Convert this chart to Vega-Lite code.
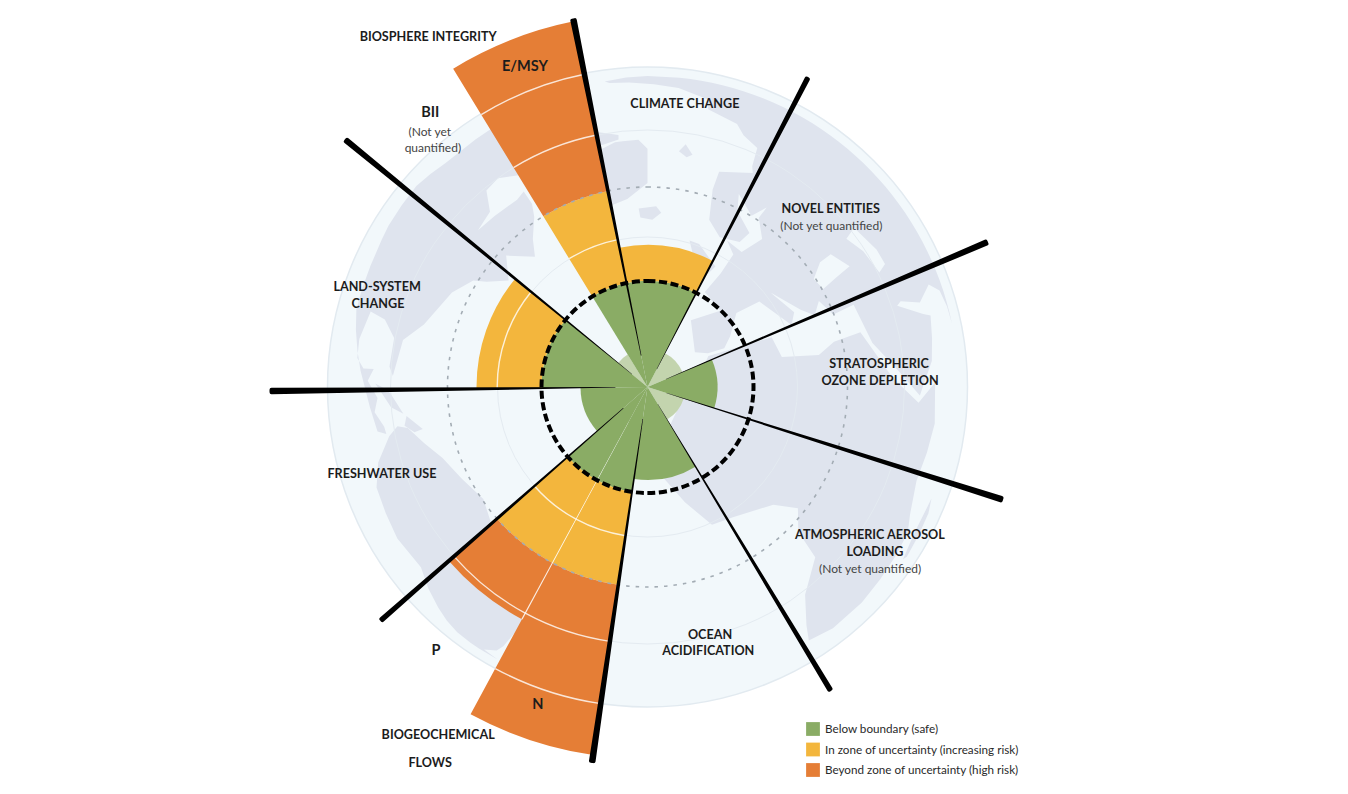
{"$schema":"https://vega.github.io/schema/vega-lite/v6.json","width":1295,"height":774,"autosize":"none","padding":{"left":0,"top":0,"right":53,"bottom":20},"background":"white","config":{"view":{"stroke":null}},
"datasets":{
"disc":[{"part":"globe","r":320}],
"rings":[{"ring":"inner","r":150},{"ring":"outer","r":257}],
"zoneLimit":[{"ring":"zone limit","r":200}],
"boundary":[{"ring":"planetary boundary","r":106}],
"zones":[
{"sector":"Climate change","zone":"Below boundary (safe)","t0":348.6,"t1":387.4,"r0":0,"r1":106},
{"sector":"Climate change","zone":"In zone of uncertainty (increasing risk)","t0":348.6,"t1":387.4,"r0":106,"r1":142},
{"sector":"Stratospheric ozone depletion","zone":"Below boundary (safe)","t0":66.9,"t1":107.6,"r0":0,"r1":70},
{"sector":"Ocean acidification","zone":"Below boundary (safe)","t0":148.9,"t1":188.4,"r0":0,"r1":93},
{"sector":"N","zone":"Below boundary (safe)","t0":188.4,"t1":208.4,"r0":0,"r1":106},
{"sector":"N","zone":"In zone of uncertainty (increasing risk)","t0":188.4,"t1":208.4,"r0":106,"r1":200},
{"sector":"N","zone":"Beyond zone of uncertainty (high risk)","t0":188.4,"t1":208.4,"r0":200,"r1":372},
{"sector":"P","zone":"Below boundary (safe)","t0":208.4,"t1":228.8,"r0":0,"r1":106},
{"sector":"P","zone":"In zone of uncertainty (increasing risk)","t0":208.4,"t1":228.8,"r0":106,"r1":200},
{"sector":"P","zone":"Beyond zone of uncertainty (high risk)","t0":208.4,"t1":228.8,"r0":200,"r1":264},
{"sector":"Freshwater use","zone":"Below boundary (safe)","t0":228.8,"t1":269.4,"r0":0,"r1":67},
{"sector":"Land-system change","zone":"Below boundary (safe)","t0":269.4,"t1":309.3,"r0":0,"r1":106},
{"sector":"Land-system change","zone":"In zone of uncertainty (increasing risk)","t0":269.4,"t1":309.3,"r0":106,"r1":171},
{"sector":"E/MSY","zone":"Below boundary (safe)","t0":328.6,"t1":348.6,"r0":0,"r1":106},
{"sector":"E/MSY","zone":"In zone of uncertainty (increasing risk)","t0":328.6,"t1":348.6,"r0":106,"r1":200},
{"sector":"E/MSY","zone":"Beyond zone of uncertainty (high risk)","t0":328.6,"t1":348.6,"r0":200,"r1":373}
],
"unknown":[
{"sector":"Novel entities","t0":27.4,"t1":66.9,"r":38},
{"sector":"Atmospheric aerosol loading","t0":107.6,"t1":148.9,"r":38},
{"sector":"BII","t0":309.3,"t1":328.6,"r":38}
],
"dividers":[
{"t0":269.4,"t1":309.3,"r0":149.6,"r1":151},
{"t0":328.6,"t1":348.6,"r0":149.6,"r1":151},
{"t0":328.6,"t1":348.6,"r0":256.4,"r1":257.8},
{"t0":328.6,"t1":348.6,"r0":318.4,"r1":319.8},
{"t0":188.4,"t1":208.4,"r0":149.6,"r1":151},
{"t0":188.4,"t1":208.4,"r0":256.4,"r1":257.8},
{"t0":188.4,"t1":208.4,"r0":319.4,"r1":320.8},
{"t0":208.4,"t1":228.8,"r0":149.6,"r1":151},
{"t0":208.4,"t1":228.8,"r0":256.4,"r1":257.8},
{"t0":208.25,"t1":208.55,"r0":40,"r1":264}
],
"spokes":[
{"t0":348.1,"t1":349.1,"r0":32,"r1":376},
{"t0":26.95,"t1":27.85,"r0":20,"r1":349},
{"t0":66.4,"t1":67.4,"r0":20,"r1":370},
{"t0":107.1,"t1":108.1,"r0":20,"r1":373},
{"t0":148.45,"t1":149.35,"r0":20,"r1":355},
{"t0":187.9,"t1":188.9,"r0":32,"r1":380},
{"t0":228.35,"t1":229.25,"r0":32,"r1":355},
{"t0":268.9,"t1":269.9,"r0":32,"r1":378},
{"t0":308.85,"t1":309.75,"r0":20,"r1":391}
],
"heads":[
{"label":"BIOSPHERE INTEGRITY","a":328,"r":414},
{"label":"CLIMATE CHANGE","a":7.5,"r":286.5},
{"label":"NOVEL ENTITIES","a":45.7,"r":256},
{"label":"STRATOSPHERIC","a":84.1,"r":232.7},
{"label":"OZONE DEPLETION","a":88.3,"r":232.6},
{"label":"ATMOSPHERIC AEROSOL","a":123.5,"r":266.7},
{"label":"LOADING","a":125.8,"r":280.5},
{"label":"OCEAN","a":165.8,"r":254.8},
{"label":"ACIDIFICATION","a":167,"r":269.9},
{"label":"BIOGEOCHEMICAL","a":211.1,"r":405.3},
{"label":"FLOWS","a":210.1,"r":433.5},
{"label":"FRESHWATER USE","a":252.1,"r":279},
{"label":"LAND-SYSTEM","a":290.5,"r":288.7},
{"label":"CHANGE","a":287.3,"r":282.3}
],
"subs":[
{"label":"E/MSY","a":339.1,"r":343.6},
{"label":"BII","a":321.7,"r":350.6},
{"label":"P","a":218.8,"r":337.5},
{"label":"N","a":199.1,"r":335.4}
],
"notes":[
{"label":"(Not yet","a":319.6,"r":336},
{"label":"quantified)","a":318.2,"r":322},
{"label":"(Not yet quantified)","a":48.6,"r":245},
{"label":"(Not yet quantified)","a":129.1,"r":286.8}
]
},
"layer":[
{"data":{"name":"disc"},"mark":{"type":"arc","fill":"#f2f8fb","stroke":"#e2eaf0","strokeWidth":1.5},
 "encoding":{"theta":{"datum":0,"type":"quantitative","stack":null,"scale":{"domain":[0,360],"range":[0,6.283185307179586]}},"theta2":{"datum":362},"radius":{"field":"r","type":"quantitative","stack":null,"scale":{"domain":[0,440],"range":[0,440]}}}},
{"data":{"values":{"type":"FeatureCollection","features":[
{"type":"Feature","properties":{"name":"North America"},"geometry":{"type":"Polygon","coordinates":[[[-168,66],[-156,71],[-140,70],[-125,70],[-110,68],[-95,68],[-94,72],[-85,69],[-82,67],[-87,64],[-94,60],[-92,57],[-82,55],[-80,51],[-79,55],[-77,60],[-78,62],[-70,61],[-65,59],[-60,55],[-56,52],[-65,50],[-60,46],[-66,44],[-70,43],[-74,39],[-77,31],[-81,26],[-80,19],[-82,20],[-84,25],[-90,26],[-97,24],[-97,18],[-95,15],[-91,15],[-87,17],[-88,14],[-83,13],[-83,10],[-79,9],[-78,8],[-81,7],[-85,10],[-92,14],[-96,16],[-105,20],[-110,27],[-114,31],[-117,33],[-124,40],[-124,48],[-130,54],[-140,60],[-150,60],[-165,55],[-160,60],[-165,63],[-168,66]]]}},
{"type":"Feature","properties":{"name":"Arctic Canada"},"geometry":{"type":"Polygon","coordinates":[[[-125,72],[-115,76],[-95,80],[-70,83],[-62,82],[-75,76],[-80,73],[-70,71],[-62,66],[-66,62],[-73,64],[-80,68],[-90,73],[-105,72],[-118,71],[-125,72]]]}},
{"type":"Feature","properties":{"name":"Greenland"},"geometry":{"type":"Polygon","coordinates":[[[-55,82],[-35,83.5],[-20,81],[-20,72],[-30,68],[-40,65],[-43,60],[-50,62],[-54,68],[-58,75],[-68,76],[-62,81],[-55,82]]]}},
{"type":"Feature","properties":{"name":"Iceland"},"geometry":{"type":"Polygon","coordinates":[[[-24,66],[-16,66.5],[-14,65],[-18,63.5],[-23,64],[-24,66]]]}},
{"type":"Feature","properties":{"name":"South America"},"geometry":{"type":"Polygon","coordinates":[[[-75,11],[-72,12],[-62,10],[-52,5],[-50,0],[-44,-2],[-35,-6],[-39,-15],[-41,-22],[-48,-26],[-54,-34],[-58,-38],[-65,-42],[-68,-52],[-67,-55],[-74,-52],[-73,-40],[-71,-30],[-70,-18],[-76,-14],[-81,-5],[-80,1],[-77,8],[-75,11]]]}},
{"type":"Feature","properties":{"name":"Africa"},"geometry":{"type":"Polygon","coordinates":[[[-6,36],[10,37],[11,33],[20,31],[25,32],[33,31],[35,25],[37,20],[43,12],[51,12],[48,5],[40,-3],[39,-10],[40,-15],[35,-24],[32,-29],[26,-34],[19,-34.5],[15,-27],[12,-17],[13,-8],[9,-1],[9,4],[4,6],[-4,5],[-8,4],[-13,9],[-17,14],[-17,21],[-13,28],[-9,32],[-6,36]]]}},
{"type":"Feature","properties":{"name":"Eurasia"},"geometry":{"type":"Polygon","coordinates":[[[-9,43],[-1,44],[-4,48],[2,51],[8,54],[8,57],[11,54],[20,55],[24,59],[30,60],[22,60],[24,65],[18,62],[17,57],[12,56],[6,58],[5,62],[14,68],[25,71],[40,67],[44,68],[60,69],[68,72],[80,73],[100,77],[115,74],[140,73],[170,70],[179,68],[179,65],[160,60],[135,55],[130,42],[122,30],[108,20],[105,10],[98,15],[92,22],[80,15],[77,8],[72,20],[66,25],[57,26],[50,30],[48,30],[56,24],[59,22],[52,16],[44,13],[39,21],[35,28],[35,36],[28,36.5],[26,40],[23,38],[20,40],[14,45],[18,40],[16,38],[10,44],[3,43],[0,39],[-2,37],[-6,36.5],[-9,37],[-9,43]]]}},
{"type":"Feature","properties":{"name":"Great Britain"},"geometry":{"type":"Polygon","coordinates":[[[-5,58.5],[-2,57.5],[1,52.5],[-5,50],[-5,54],[-5,58.5]]]}},
{"type":"Feature","properties":{"name":"Ireland"},"geometry":{"type":"Polygon","coordinates":[[[-9,54],[-6,55],[-6,52],[-10,52],[-9,54]]]}},
{"type":"Feature","properties":{"name":"Madagascar"},"geometry":{"type":"Polygon","coordinates":[[[49,-12],[50,-16],[47,-25],[44,-24],[44,-17],[49,-12]]]}},
{"type":"Feature","properties":{"name":"Svalbard"},"geometry":{"type":"Polygon","coordinates":[[[12,79],[25,80],[20,77],[14,77],[12,79]]]}},
{"type":"Feature","properties":{"name":"Cuba"},"geometry":{"type":"Polygon","coordinates":[[[-85,15],[-80,16],[-74,14],[-78,13.5],[-82,14.5],[-85,15]]]}},
{"type":"Feature","properties":{"name":"Hispaniola"},"geometry":{"type":"Polygon","coordinates":[[[-73,14],[-68,13.5],[-70,12],[-73,12],[-73,14]]]}}
]},"format":{"type":"json","property":"features"}},
 "projection":{"type":"orthographic","rotate":[20,-31,0],"scale":311,"translate":[647.5,387]},
 "mark":{"type":"geoshape","fill":"#dfe4ee","stroke":null},"encoding":{}},
{"data":{"values":{"type":"FeatureCollection","features":[
{"type":"Feature","properties":{"name":"Black Sea"},"geometry":{"type":"Polygon","coordinates":[[[28,44],[33,46],[38,46],[41,42],[35,42],[29,41.5],[28,44]]]}},
{"type":"Feature","properties":{"name":"Caspian Sea"},"geometry":{"type":"Polygon","coordinates":[[[47,46],[53,46],[54,40],[53,37],[49,37],[49,42],[47,46]]]}}
]},"format":{"type":"json","property":"features"}},
 "projection":{"type":"orthographic","rotate":[20,-31,0],"scale":311,"translate":[647.5,387]},
 "mark":{"type":"geoshape","fill":"#f2f8fb","stroke":null},"encoding":{}},
{"data":{"name":"rings"},"mark":{"type":"arc","fill":"transparent","stroke":"#e4ebf1","strokeWidth":1},
 "encoding":{"theta":{"datum":0,"type":"quantitative","stack":null,"scale":{"domain":[0,360],"range":[0,6.283185307179586]}},"theta2":{"datum":362},"radius":{"field":"r","type":"quantitative","stack":null,"scale":{"domain":[0,440],"range":[0,440]}}}},
{"data":{"name":"unknown"},"mark":{"type":"arc","fill":"#c3d4ae"},
 "encoding":{"theta":{"field":"t0","type":"quantitative","stack":null,"scale":{"domain":[0,360],"range":[0,6.283185307179586]}},"theta2":{"field":"t1"},"radius":{"field":"r","type":"quantitative","stack":null,"scale":{"domain":[0,440],"range":[0,440]}}}},
{"data":{"name":"zones"},"mark":{"type":"arc"},
 "encoding":{"theta":{"field":"t0","type":"quantitative","stack":null,"scale":{"domain":[0,360],"range":[0,6.283185307179586]}},"theta2":{"field":"t1"},"radius":{"field":"r1","type":"quantitative","stack":null,"scale":{"domain":[0,440],"range":[0,440]}},"radius2":{"field":"r0"},
 "color":{"field":"zone","type":"nominal","sort":null,"scale":{"domain":["Below boundary (safe)","In zone of uncertainty (increasing risk)","Beyond zone of uncertainty (high risk)"],"range":["#8aac65","#f3b63d","#e57e36"]},
 "legend":{"title":null,"orient":"none","legendX":806,"legendY":722,"symbolType":"square","symbolSize":190,"symbolStrokeWidth":0,"labelFont":"Lato","labelFontSize":11.7,"labelColor":"#2a2a2a","labelLimit":260,"rowPadding":6.5,"labelOffset":5}}}},
{"data":{"name":"dividers"},"mark":{"type":"arc","fill":"#ffffff","opacity":0.8},
 "encoding":{"theta":{"field":"t0","type":"quantitative","stack":null,"scale":{"domain":[0,360],"range":[0,6.283185307179586]}},"theta2":{"field":"t1"},"radius":{"field":"r1","type":"quantitative","stack":null,"scale":{"domain":[0,440],"range":[0,440]}},"radius2":{"field":"r0"}}},
{"data":{"name":"zoneLimit"},"mark":{"type":"arc","fill":"transparent","stroke":"#a3acb4","strokeWidth":1.6,"strokeDash":[3.5,6]},
 "encoding":{"theta":{"datum":0,"type":"quantitative","stack":null,"scale":{"domain":[0,360],"range":[0,6.283185307179586]}},"theta2":{"datum":362},"radius":{"field":"r","type":"quantitative","stack":null,"scale":{"domain":[0,440],"range":[0,440]}}}},
{"data":{"name":"spokes"},"mark":{"type":"arc","fill":"#000000","cornerRadius":2},
 "encoding":{"theta":{"field":"t0","type":"quantitative","stack":null,"scale":{"domain":[0,360],"range":[0,6.283185307179586]}},"theta2":{"field":"t1"},"radius":{"field":"r1","type":"quantitative","stack":null,"scale":{"domain":[0,440],"range":[0,440]}},"radius2":{"field":"r0"}}},
{"data":{"name":"boundary"},"mark":{"type":"arc","fill":"transparent","stroke":"#000000","strokeWidth":4,"strokeDash":[8,3.6]},
 "encoding":{"theta":{"datum":0,"type":"quantitative","stack":null,"scale":{"domain":[0,360],"range":[0,6.283185307179586]}},"theta2":{"datum":362},"radius":{"field":"r","type":"quantitative","stack":null,"scale":{"domain":[0,440],"range":[0,440]}}}},
{"data":{"name":"heads"},"mark":{"type":"text","font":"Lato","fontSize":12.6,"fontWeight":"bold","fill":"#1c1c1c","align":"center","baseline":"middle","dy":1},
 "encoding":{"text":{"field":"label"},"theta":{"field":"a","type":"quantitative","stack":null,"scale":{"domain":[0,360],"range":[0,6.283185307179586]}},"radius":{"field":"r","type":"quantitative","stack":null,"scale":{"domain":[0,440],"range":[0,440]}}}},
{"data":{"name":"subs"},"mark":{"type":"text","font":"Lato","fontSize":14.5,"fontWeight":"bold","fill":"#1c1c1c","align":"center","baseline":"middle","dy":1},
 "encoding":{"text":{"field":"label"},"theta":{"field":"a","type":"quantitative","stack":null,"scale":{"domain":[0,360],"range":[0,6.283185307179586]}},"radius":{"field":"r","type":"quantitative","stack":null,"scale":{"domain":[0,440],"range":[0,440]}}}},
{"data":{"name":"notes"},"mark":{"type":"text","font":"Lato","fontSize":12,"fill":"#444444","align":"center","baseline":"middle","dy":1},
 "encoding":{"text":{"field":"label"},"theta":{"field":"a","type":"quantitative","stack":null,"scale":{"domain":[0,360],"range":[0,6.283185307179586]}},"radius":{"field":"r","type":"quantitative","stack":null,"scale":{"domain":[0,440],"range":[0,440]}}}}
],
"resolve":{"scale":{"color":"independent"}}
}
